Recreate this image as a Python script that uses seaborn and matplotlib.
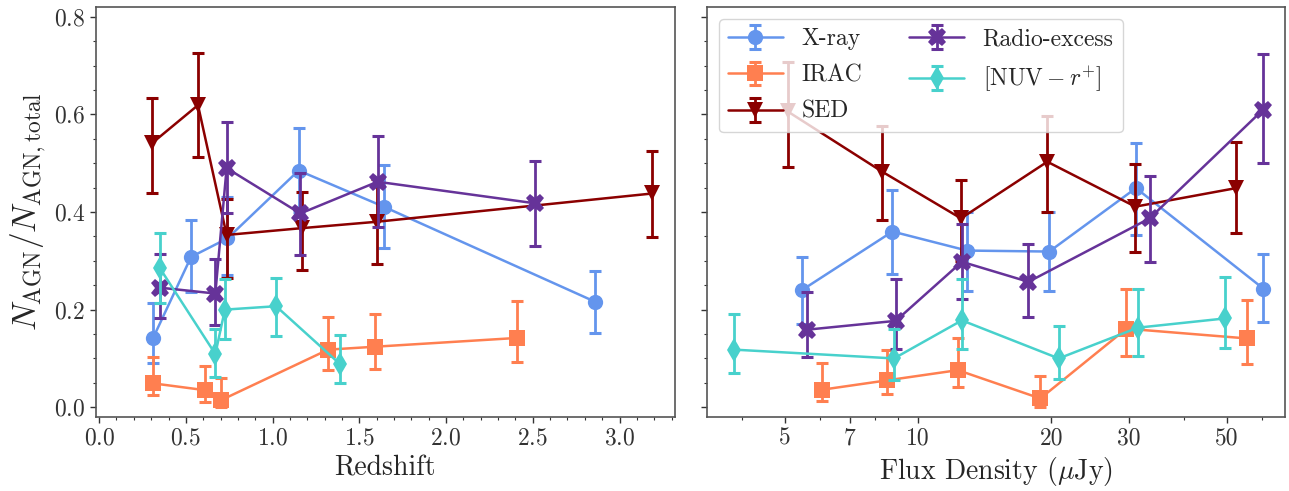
import numpy as np
import seaborn as sns
import matplotlib
matplotlib.use('Agg')
import matplotlib.pyplot as plt
from matplotlib.ticker import MultipleLocator, FixedLocator, FixedFormatter, NullFormatter, LogLocator

# ---- data: AGN fraction vs redshift (left panel) ----
xray_z = [0.31, 0.53, 0.74, 1.15, 1.64, 2.86]
xray_zf = [0.141, 0.308, 0.346, 0.485, 0.411, 0.216]
xray_zlo = [0.091, 0.237, 0.270, 0.400, 0.326, 0.153]
xray_zhi = [0.213, 0.384, 0.430, 0.573, 0.496, 0.280]

irac_z = [0.31, 0.61, 0.70, 1.32, 1.59, 2.41]
irac_zf = [0.049, 0.035, 0.014, 0.118, 0.124, 0.142]
irac_zlo = [0.025, 0.011, 0.000, 0.076, 0.079, 0.093]
irac_zhi = [0.103, 0.084, 0.059, 0.184, 0.192, 0.217]

sed_z = [0.305, 0.57, 0.735, 1.17, 1.60, 3.19]
sed_zf = [0.541, 0.619, 0.353, 0.367, 0.380, 0.438]
sed_zlo = [0.438, 0.512, 0.265, 0.282, 0.293, 0.348]
sed_zhi = [0.633, 0.726, 0.426, 0.440, 0.467, 0.526]

radio_z = [0.35, 0.67, 0.735, 1.16, 1.605, 2.51]
radio_zf = [0.245, 0.233, 0.490, 0.397, 0.462, 0.418]
radio_zlo = [0.182, 0.168, 0.398, 0.312, 0.370, 0.330]
radio_zhi = [0.315, 0.303, 0.585, 0.480, 0.556, 0.505]

nuv_z = [0.35, 0.67, 0.725, 1.02, 1.39]
nuv_zf = [0.285, 0.109, 0.200, 0.207, 0.088]
nuv_zlo = [0.214, 0.062, 0.139, 0.146, 0.049]
nuv_zhi = [0.358, 0.160, 0.263, 0.264, 0.149]

# ---- data: AGN fraction vs flux density (right panel) ----
xray_s = [5.46, 8.75, 12.9, 19.8, 31.1, 60.4]
xray_sf = [0.240, 0.360, 0.321, 0.319, 0.449, 0.243]
xray_slo = [0.170, 0.274, 0.239, 0.239, 0.353, 0.174]
xray_shi = [0.308, 0.445, 0.400, 0.400, 0.542, 0.315]

irac_s = [6.07, 8.49, 12.3, 18.9, 29.6, 55.4]
irac_sf = [0.036, 0.055, 0.076, 0.018, 0.161, 0.141]
irac_slo = [0.013, 0.027, 0.042, 0.000, 0.105, 0.088]
irac_shi = [0.091, 0.118, 0.142, 0.064, 0.242, 0.219]

sed_s = [5.07, 8.28, 12.5, 19.6, 31.0, 52.4]
sed_sf = [0.606, 0.483, 0.387, 0.503, 0.411, 0.449]
sed_slo = [0.492, 0.384, 0.300, 0.400, 0.319, 0.358]
sed_shi = [0.708, 0.577, 0.466, 0.597, 0.498, 0.544]

radio_s = [5.62, 8.90, 12.56, 17.77, 33.4, 60.2]
radio_sf = [0.159, 0.177, 0.298, 0.257, 0.387, 0.609]
radio_slo = [0.103, 0.119, 0.221, 0.185, 0.297, 0.500]
radio_shi = [0.237, 0.262, 0.375, 0.334, 0.474, 0.724]

nuv_s = [3.84, 8.82, 12.56, 20.8, 31.4, 49.5]
nuv_sf = [0.118, 0.100, 0.178, 0.100, 0.163, 0.182]
nuv_slo = [0.070, 0.055, 0.119, 0.057, 0.105, 0.122]
nuv_shi = [0.192, 0.160, 0.262, 0.166, 0.242, 0.267]

labels = ['X-ray', 'IRAC', 'SED', 'Radio-excess', r'$[\mathrm{NUV} - r^{+}]$']
colors = ['cornflowerblue', 'coral', 'darkred', 'rebeccapurple', 'mediumturquoise']
markers = ['o', 's', 'v', 'X', 'd']
msizes = [11, 11, 12, 13, 12]

z_ticks = [0.0, 0.5, 1.0, 1.5, 2.0, 2.5, 3.0]
s_ticks = [5, 7, 10, 20, 30, 50]
s_ticklabels = ['5', '7', '10', '20', '30', '50']
y_ticks = [0.0, 0.2, 0.4, 0.6, 0.8]

left_series = [
    (xray_z, xray_zf, xray_zlo, xray_zhi),
    (irac_z, irac_zf, irac_zlo, irac_zhi),
    (sed_z, sed_zf, sed_zlo, sed_zhi),
    (radio_z, radio_zf, radio_zlo, radio_zhi),
    (nuv_z, nuv_zf, nuv_zlo, nuv_zhi),
]
right_series = [
    (xray_s, xray_sf, xray_slo, xray_shi),
    (irac_s, irac_sf, irac_slo, irac_shi),
    (sed_s, sed_sf, sed_slo, sed_shi),
    (radio_s, radio_sf, radio_slo, radio_shi),
    (nuv_s, nuv_sf, nuv_slo, nuv_shi),
]

sns.set_style('ticks')
plt.rcParams['font.family'] = ['cmr10', 'DejaVu Serif']
plt.rcParams['mathtext.fontset'] = 'cm'
plt.rcParams['axes.formatter.use_mathtext'] = True
plt.rcParams['axes.unicode_minus'] = False

fig = plt.figure(figsize=(12.89, 4.91), dpi=100)
ax1 = fig.add_axes([0.0742, 0.1507, 0.4495, 0.835])
ax2 = fig.add_axes([0.5485, 0.1507, 0.4484, 0.835], sharey=ax1)


def draw(ax, series):
    handles = []
    for (x, y, lo, hi), c, m, ms in zip(series, colors, markers, msizes):
        x = np.array(x)
        y = np.array(y)
        yerr = [y - np.array(lo), np.array(hi) - y]
        sns.lineplot(x=x, y=y, ax=ax, color=c, marker=m, markersize=ms,
                     markeredgecolor=c, markeredgewidth=0, linewidth=1.8,
                     errorbar=None, sort=False, legend=False)
        line = ax.get_lines()[-1]
        eb = ax.errorbar(x, y, yerr=yerr, fmt='none', ecolor=c, elinewidth=2,
                         capsize=4.5, capthick=2.2)
        handles.append((eb, line))
    return handles


draw(ax1, left_series)
handles = draw(ax2, right_series)

# left panel axes
ax1.set_xlim(-0.02, 3.32)
ax1.set_ylim(-0.02, 0.82)
ax1.set_xticks(z_ticks)
ax1.set_yticks(y_ticks)
ax1.xaxis.set_minor_locator(MultipleLocator(0.1))
ax1.yaxis.set_minor_locator(MultipleLocator(0.05))
ax1.set_xlabel('Redshift', fontsize=20)
ax1.set_ylabel(r'$N_{\rm AGN}/N_{\rm AGN,total}$', fontsize=24)

# right panel axes
ax2.set_xscale('log')
ax2.set_xlim(3.33, 67.6)
ax2.xaxis.set_major_locator(FixedLocator(s_ticks))
ax2.xaxis.set_major_formatter(FixedFormatter(s_ticklabels))
ax2.xaxis.set_minor_locator(LogLocator(base=10, subs=np.arange(2, 10)))
ax2.xaxis.set_minor_formatter(NullFormatter())
ax2.tick_params(axis='y', labelleft=False)
ax2.set_xlabel(r'Flux Density ($\mu$Jy)', fontsize=20)

for ax in (ax1, ax2):
    ax.tick_params(which='major', labelsize=17, length=4, width=1, colors='#333333',
                   labelcolor='#333333')
    ax.tick_params(which='minor', length=2.5, width=0.8, colors='#333333')
    for sp in ax.spines.values():
        sp.set_color('#555555')
        sp.set_linewidth(1.2)

ax2.legend(handles, labels, loc='upper left', ncol=2, fontsize=17,
           framealpha=0.8, handlelength=2.3, handletextpad=0.8,
           columnspacing=2.0, labelspacing=0.6, borderaxespad=0.5)

fig.savefig('out.png', dpi=100)
